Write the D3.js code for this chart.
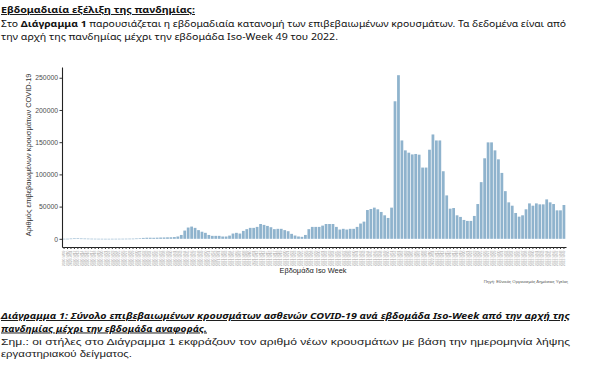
<!DOCTYPE html>
<html>
<head>
<meta charset="utf-8">
<script src="https://cdn.jsdelivr.net/npm/d3@7"></script>
<style>
  html, body { margin: 0; padding: 0; background: #fff; }
  svg { display: block; }
</style>
</head>
<body>
<script>
// εβδομάδες Iso-Week: [έτος, πρώτη, τελευταία]
const weekRanges = [[2020, 9, 53], [2021, 1, 52], [2022, 1, 49]];

// εβδομαδιαία κρούσματα (εκτίμηση από το διάγραμμα)
const cases2020 = [100, 150, 400, 600, 700, 500, 400, 300, 200, 150,
  100, 80, 60, 50, 80, 100, 120, 150, 200, 250,
  300, 500, 900, 1400, 1700, 1700, 1600, 1800, 2000, 2100,
  2300, 2400, 2700, 3600, 6000, 12800, 17500, 19000, 17000, 13500,
  11000, 9300, 6000, 4600, 4600];
const cases2021 = [4600, 3600, 3600, 5000, 8200, 9300, 8200, 12300, 15000, 17000,
  17000, 18500, 23000, 21600, 20000, 18000, 15000, 15500, 15500, 13500,
  11800, 7700, 5100, 3600, 3100, 6000, 15000, 18500, 18500, 18500,
  20500, 23000, 23000, 23000, 18500, 14400, 15500, 14400, 15500, 15500,
  18500, 23700, 26700, 44700, 46300, 48400, 45800, 41700, 36500, 32400,
  48400, 213500];
const cases2022 = [254000, 152700, 137300, 133700, 131000, 131700, 130600, 110600, 110600, 138300,
  162000, 152700, 152700, 104900, 67400, 46800, 47800, 36500, 34000, 29300,
  27800, 27800, 35500, 54000, 88000, 125000, 149700, 149700, 137300, 123400,
  102300, 74000, 56600, 51400, 40100, 34400, 36500, 45800, 55000, 51400,
  55000, 53500, 53500, 61200, 56600, 54000, 44200, 44200, 52500];
const yTicks = [0, 50000, 100000, 150000, 200000, 250000];

const weeks = [];
weekRanges.forEach(([yr, a, b]) => {
  for (let w = a; w <= b; w++) weeks.push(yr + '-W' + String(w).padStart(2, '0'));
});
const values = cases2020.concat(cases2021, cases2022);
const data = weeks.map((w, i) => ({ week: w, value: values[i] }));

const svg = d3.select('body').append('svg')
  .attr('width', 600)
  .attr('height', 375);

const sans = "'Noto Sans', 'Open Sans', sans-serif";
const arial = "'Liberation Sans', Arial, sans-serif";

// γραμμή κειμένου, με textLength για το πλάτος του πρωτοτύπου
const addLine = (y, parts, len, opts = {}) => {
  const t = svg.append('text')
    .attr('x', 1)
    .attr('y', y)
    .style('font-family', opts.family || sans)
    .style('font-size', (opts.size || 9.4) + 'px')
    .attr('fill', opts.fill || '#111');
  if (len) t.attr('textLength', len).attr('lengthAdjust', 'spacingAndGlyphs');
  parts.forEach(p => {
    const s = t.append('tspan').text(p.t);
    if (p.b) s.style('font-weight', 'bold');
    if (p.i) s.style('font-style', 'italic');
    if (p.u) s.style('text-decoration', 'underline');
  });
  return t;
};

addLine(13, [{ t: 'Εβδομαδιαία εξέλιξη της πανδημίας:', b: true, u: true }], 194);
addLine(26.5, [{ t: 'Στο ' }, { t: 'Διάγραμμα 1', b: true },
  { t: ' παρουσιάζεται η εβδομαδιαία κατανομή των επιβεβαιωμένων κρουσμάτων. Τα δεδομένα είναι από' }], 565);
addLine(40, [{ t: 'την αρχή της πανδημίας μέχρι την εβδομάδα Iso-Week 49 του 2022.' }], 337);

// διάγραμμα
const plotLeft = 62, plotRight = 566, plotTop = 67, plotBottom = 247;

const x = d3.scaleBand()
  .domain(weeks)
  .range([plotLeft, plotRight])
  .paddingInner(0.2)
  .paddingOuter(0.2);

const y = d3.scaleLinear()
  .domain([-12700, 266700])
  .range([plotBottom, plotTop]);

svg.append('g')
  .selectAll('rect')
  .data(data)
  .enter().append('rect')
  .attr('x', d => x(d.week))
  .attr('width', x.bandwidth())
  .attr('y', d => y(Math.max(0, d.value)))
  .attr('height', d => Math.max(0.6, Math.abs(y(d.value) - y(0))))
  .attr('fill', '#8fb3cd');

const gy = svg.append('g')
  .attr('transform', `translate(${plotLeft},0)`)
  .call(d3.axisLeft(y).tickValues(yTicks).tickSize(2.5).tickSizeOuter(0).tickPadding(1.5).tickFormat(d3.format('d')));
gy.select('.domain').attr('stroke', '#222').attr('stroke-width', 1.1);
gy.selectAll('.tick line').attr('stroke', '#333');
gy.selectAll('.tick text')
  .attr('fill', '#4d4d4d')
  .style('font-family', arial)
  .style('font-size', '6.8px');

const gx = svg.append('g')
  .attr('transform', `translate(0,${plotBottom})`)
  .call(d3.axisBottom(x).tickSize(2).tickSizeOuter(0).tickPadding(1));
gx.select('.domain').attr('stroke', '#222').attr('stroke-width', 1.1);
gx.selectAll('.tick line').attr('stroke', '#333');
gx.selectAll('.tick text')
  .attr('fill', '#a6a6a6')
  .style('font-family', arial)
  .style('font-size', '3.4px')
  .attr('text-anchor', 'end')
  .attr('dy', '0.35em')
  .attr('transform', 'translate(0,3.5) rotate(-90)')
  .attr('x', 0)
  .attr('y', 0);

svg.append('text')
  .attr('transform', `translate(31,${(plotTop + plotBottom) / 2 - 2}) rotate(-90)`)
  .attr('text-anchor', 'middle')
  .attr('fill', '#333')
  .style('font-family', arial)
  .style('font-size', '7.4px')
  .text('Αριθμός επιβεβαιωμένων κρουσμάτων COVID-19');

svg.append('text')
  .attr('x', 313)
  .attr('y', 273)
  .attr('text-anchor', 'middle')
  .attr('fill', '#222')
  .style('font-family', arial)
  .style('font-size', '7.4px')
  .text('Εβδομάδα Iso Week');

svg.append('text')
  .attr('x', 568)
  .attr('y', 283)
  .attr('text-anchor', 'end')
  .attr('fill', '#555')
  .style('font-family', arial)
  .style('font-size', '4.3px')
  .text('Πηγή: Εθνικός Οργανισμός Δημόσιας Υγείας');

// λεζάντα
addLine(319, [{ t: 'Διάγραμμα 1:  Σύνολο επιβεβαιωμένων κρουσμάτων ασθενών COVID-19 ανά εβδομάδα Iso-Week από την αρχή της', b: true, i: true, u: true }], 569);
addLine(331.5, [{ t: 'πανδημίας μέχρι την εβδομάδα αναφοράς.', b: true, i: true, u: true }], 206);
addLine(344.5, [{ t: 'Σημ.:  οι στήλες στο Διάγραμμα 1 εκφράζουν τον αριθμό νέων κρουσμάτων με βάση την ημερομηνία λήψης' }], 569,
  { family: arial, size: 9.2, fill: '#222' });
addLine(357, [{ t: 'εργαστηριακού δείγματος.' }], 131, { family: arial, size: 9.2, fill: '#222' });
</script>
</body>
</html>
